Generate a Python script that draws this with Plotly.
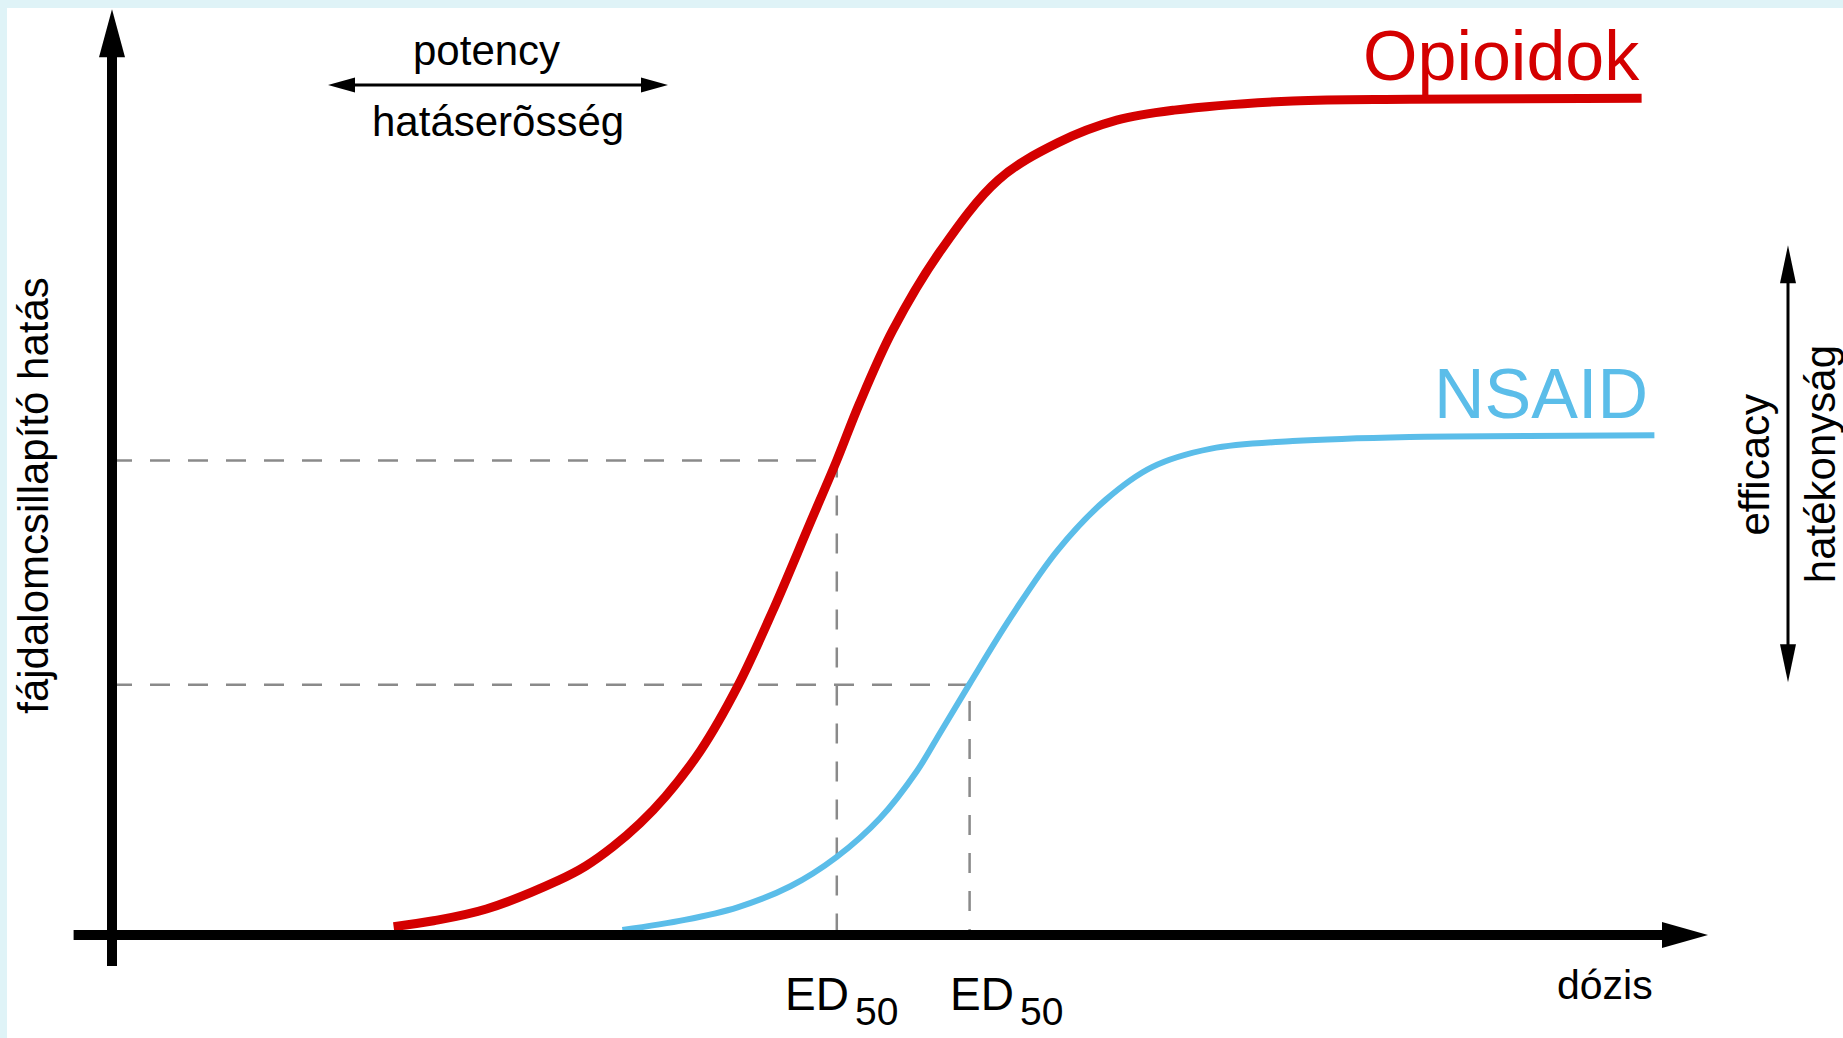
import plotly.graph_objects as go

# ---- data (dose in arbitrary units, effect in % of the opioid maximum) ----
opioid_dose = [17.6, 20.1, 23.4, 27.9, 29.6, 31.3, 33.0, 34.6, 36.8, 39.1, 41.3, 43.6, 45.3,
               46.7, 48.8, 51.8, 55.4, 59.1, 62.8, 66.4, 73.8, 81.1, 95.6]
opioid_effect = [1.0, 1.7, 3.1, 6.5, 8.2, 10.5, 13.3, 16.5, 22.0, 29.6, 38.6, 48.9, 56.5,
                 63.2, 72.0, 81.5, 89.9, 94.3, 97.0, 98.2, 99.3, 99.5, 99.6]
nsaid_dose = [31.9, 35.8, 39.1, 42.4, 45.3, 48.0, 50.3, 51.8, 53.6, 56.2, 59.1, 62.1,
              65.0, 68.7, 73.8, 81.1, 88.5, 96.4]
nsaid_effect = [0.6, 1.8, 3.3, 5.8, 9.3, 13.9, 19.5, 24.2, 29.9, 37.9, 45.8, 51.8,
                55.7, 57.9, 58.8, 59.3, 59.4, 59.5]
ed50_dose = [45.3, 53.6]       # opioid, NSAID
ed50_effect = [56.5, 29.8]     # opioid, NSAID
series_names = ["Opioidok", "NSAID"]
x_title = "dózis"
y_title = "fájdalomcsillapító hatás"

RED = "#d40000"
BLUE = "#5bbde9"
GREY = "#8a8a8a"
FONT = "Liberation Sans, Arial, Helvetica, sans-serif"

X_RANGE = [-6.5625, 108.1875]
Y_RANGE = [-12.262, 110.357]

fig = go.Figure()

# dashed ED50 guide lines
for d, e in zip(ed50_dose, ed50_effect):
    fig.add_trace(go.Scatter(x=[0, d, d], y=[e, e, 0], mode="lines",
                             line=dict(color=GREY, width=2.5, dash="20px,18px"),
                             hoverinfo="skip"))

# dose-response curves
fig.add_trace(go.Scatter(x=opioid_dose, y=opioid_effect, mode="lines", name=series_names[0],
                         line=dict(color=RED, width=9, shape="spline", smoothing=1.0)))
fig.add_trace(go.Scatter(x=nsaid_dose, y=nsaid_effect, mode="lines", name=series_names[1],
                         line=dict(color=BLUE, width=6, shape="spline", smoothing=1.0)))

# axis lines (drawn as arrows)
fig.add_trace(go.Scatter(x=[-2.4, 97.4], y=[0, 0], mode="lines",
                         line=dict(color="black", width=10), hoverinfo="skip"))
fig.add_trace(go.Scatter(x=[0, 0], y=[-3.7, 105.4], mode="lines",
                         line=dict(color="black", width=10), hoverinfo="skip"))
# potency arrow
fig.add_trace(go.Scatter(x=[14.3, 34.0], y=[101.2, 101.2], mode="lines",
                         line=dict(color="black", width=3), hoverinfo="skip"))
# efficacy arrow
fig.add_trace(go.Scatter(x=[104.75, 104.75], y=[31.9, 80.4], mode="lines",
                         line=dict(color="black", width=3), hoverinfo="skip"))


def head(x, y, direction, length, half):
    if direction == "right":
        path = f"M0,0 L{-length},{half} L{-length},{-half} Z"
    elif direction == "left":
        path = f"M0,0 L{length},{half} L{length},{-half} Z"
    elif direction == "up":
        path = f"M0,0 L{-half},{-length} L{half},{-length} Z"
    else:
        path = f"M0,0 L{-half},{length} L{half},{length} Z"
    return dict(type="path", xref="x", yref="y", xsizemode="pixel", ysizemode="pixel",
                xanchor=x, yanchor=y, path=path, fillcolor="black",
                line=dict(width=0), layer="above")


shapes = [
    head(99.75, 0, "right", 46, 13),
    head(0, 110.2, "up", 48, 13),
    head(13.5, 101.2, "left", 27, 7.5),
    head(34.75, 101.2, "right", 27, 7.5),
    head(104.75, 82.1, "up", 38, 8),
    head(104.75, 30.1, "down", 38, 8),
]


def txt(text, x, y, size, color="black", xanchor="center", angle=0):
    return dict(text=text, x=x, y=y, xref="x", yref="y", showarrow=False,
                xanchor=xanchor, yanchor="middle", textangle=angle,
                font=dict(family=FONT, size=size, color=color))


annotations = [
    txt("potency", 23.4, 105.25, 42),
    txt("hatáserõsség", 24.1, 96.9, 42),
    txt(series_names[0], 95.6, 104.6, 70, RED, "right"),
    txt(series_names[1], 96.1, 64.4, 70, BLUE, "right"),
    txt("efficacy", 102.6, 55.95, 42, angle=-90),
    txt("hatékonyság", 106.75, 56.05, 42, angle=-90),
    txt(y_title, -4.87, 52.3, 42, angle=-90),
    txt(x_title, 93.3, -6.0, 41),
    txt("ED", 41.94, -7.0, 46, xanchor="left"),
    txt("ED", 52.25, -7.0, 46, xanchor="left"),
    txt("50", 46.31, -9.1, 39, xanchor="left"),
    txt("50", 56.63, -9.1, 39, xanchor="left"),
]

fig.update_layout(
    width=1843, height=1038,
    margin=dict(l=7, r=0, t=8, b=0, pad=0),
    paper_bgcolor="#dff3f7",
    plot_bgcolor="white",
    showlegend=False,
    hovermode=False,
    xaxis=dict(range=X_RANGE, visible=False, fixedrange=True),
    yaxis=dict(range=Y_RANGE, visible=False, fixedrange=True),
    shapes=shapes,
    annotations=annotations,
)

fig.write_html("out.html", config={"displayModeBar": False},
               post_script="document.body.style.margin='0';document.body.style.overflow='hidden';")
